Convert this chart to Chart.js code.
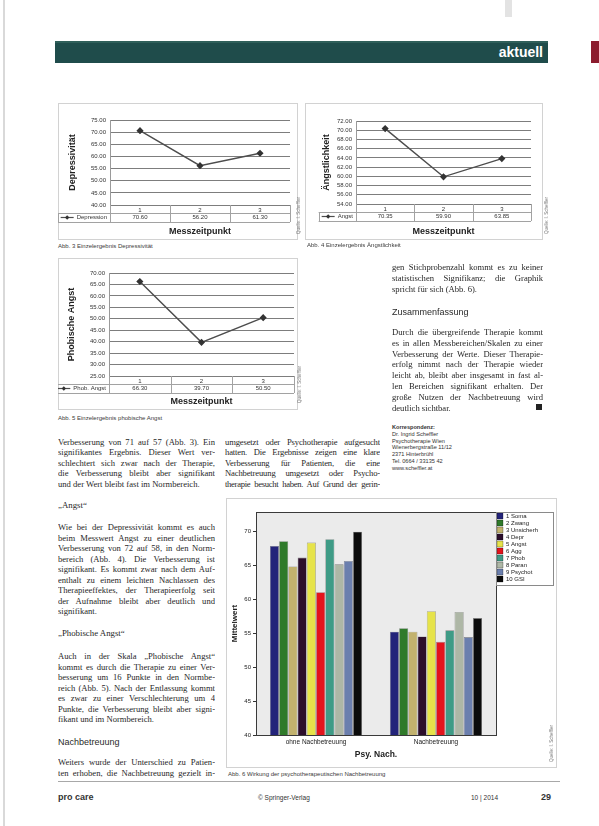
<!DOCTYPE html>
<html lang="de">
<head>
<meta charset="utf-8">
<title>aktuell – Nachbetreuung</title>
<script src="https://cdn.jsdelivr.net/npm/chart.js@4.4.1/dist/chart.umd.min.js"></script>
<style>
    html, body { margin: 0; padding: 0; background: #fff; }
    body { position: relative; width: 599px; height: 826px; overflow: hidden;
           font-family: "Liberation Serif", "DejaVu Serif", serif; color: #272727; }
    .abs { position: absolute; }
    .edge { left: 3px; top: 0; width: 2px; height: 826px; background: #d9d9d9; }
    .mark { left: 505px; top: 0; width: 7px; height: 17px; background: #e3e3e3; }
    .head { left: 55px; top: 41px; width: 493px; height: 22px; background: #1f4c4b;
            border-top: 2px solid #2f5f5a; box-sizing: border-box; }
    .head span { position: absolute; right: 5px; top: 1px; color: #fff;
                 font: bold 14px "Liberation Sans", Arial, sans-serif; }
    .tab { left: 591px; top: 41px; width: 8px; height: 22px; background: #8c1c2e; }
    .panel { border: 1px solid #d2d2d2; box-sizing: border-box; }
    canvas { position: absolute; }
    .cap { font: 6px "Liberation Sans", Arial, sans-serif; color: #3a3a3a; white-space: nowrap; }
    .credit { font: 4.5px "Liberation Sans", Arial, sans-serif; color: #7a7a7a; white-space: nowrap;
              transform: rotate(-90deg); transform-origin: left top; }
    .txt { font-size: 8.6px; }
    .txt div { height: 10.5px; line-height: 10.5px; text-align: justify; text-align-last: justify; overflow: hidden; }
    .txt div.e { text-align-last: left; }
    .sub { font-size: 8.8px; white-space: nowrap; }
    .h2 { font: 9px "Liberation Sans", Arial, sans-serif; color: #2a2a2a; white-space: nowrap; }
    .kontakt { font: 5.6px/6.8px "Liberation Sans", Arial, sans-serif; color: #333; white-space: nowrap; }
    .foot { font: 6.5px "Liberation Sans", Arial, sans-serif; color: #333; white-space: nowrap; }
    .rule { left: 58px; top: 781px; width: 502px; height: 1px; background: #a8a8a8; }
</style>
</head>
<body>

<div class="abs edge"></div>
<div class="abs mark"></div>
<div class="abs head"><span>aktuell</span></div>
<div class="abs tab"></div>

<!-- Abb. 3 -->
<div class="abs panel" style="left:58px;top:103px;width:240px;height:137px;"></div>
<canvas id="depChart" width="240" height="137" style="left:58px;top:103px;"></canvas>
<div class="abs credit" style="left:296px;top:234px;">Quelle: I. Scheffler</div>
<div class="abs cap" style="left:58px;top:243px;">Abb. 3 Einzelergebnis Depressivität</div>

<!-- Abb. 4 -->
<div class="abs panel" style="left:305px;top:103px;width:238px;height:137px;"></div>
<canvas id="angstChart" width="240" height="137" style="left:305px;top:103px;"></canvas>
<div class="abs credit" style="left:544px;top:234px;">Quelle: I. Scheffler</div>
<div class="abs cap" style="left:307px;top:242px;">Abb. 4 Einzelergebnis Ängstlichkeit</div>

<!-- Abb. 5 -->
<div class="abs panel" style="left:58px;top:258px;width:240px;height:152px;"></div>
<canvas id="phobChart" width="242" height="152" style="left:58px;top:258px;"></canvas>
<div class="abs credit" style="left:297px;top:403px;">Quelle: I. Scheffler</div>
<div class="abs cap" style="left:58px;top:415px;">Abb. 5 Einzelergebnis phobische Angst</div>

<!-- linke Spalte -->
<div class="abs txt" style="left:58px;top:437px;width:157px;">
    <div style="height:10.4px;line-height:10.4px">Verbesserung von 71 auf 57 (Abb. 3). Ein</div>
    <div style="height:10.4px;line-height:10.4px">signifikantes Ergebnis. Dieser Wert ver-</div>
    <div style="height:10.4px;line-height:10.4px">schlechtert sich zwar nach der Therapie,</div>
    <div style="height:10.4px;line-height:10.4px">die Verbesserung bleibt aber signifikant</div>
    <div class="e" style="height:10.4px;line-height:10.4px">und der Wert bleibt fast im Normbereich.</div>
</div>
<div class="abs sub" style="left:58px;top:500px;">„Angst“</div>
<div class="abs txt" style="left:58px;top:522px;width:157px;">
    <div>Wie bei der Depressivität kommt es auch</div>
    <div>beim Messwert Angst zu einer deutlichen</div>
    <div>Verbesserung von 72 auf 58, in den Norm-</div>
    <div>bereich (Abb. 4). Die Verbesserung ist</div>
    <div>signifikant. Es kommt zwar nach dem Auf-</div>
    <div>enthalt zu einem leichten Nachlassen des</div>
    <div>Therapieeffektes, der Therapieerfolg seit</div>
    <div>der Aufnahme bleibt aber deutlich und</div>
    <div class="e">signifikant.</div>
</div>
<div class="abs sub" style="left:58px;top:628px;">„Phobische Angst“</div>
<div class="abs txt" style="left:58px;top:651px;width:157px;">
    <div>Auch in der Skala „Phobische Angst“</div>
    <div>kommt es durch die Therapie zu einer Ver-</div>
    <div>besserung um 16 Punkte in den Normbe-</div>
    <div>reich (Abb. 5). Nach der Entlassung kommt</div>
    <div>es zwar zu einer Verschlechterung um 4</div>
    <div>Punkte, die Verbesserung bleibt aber signi-</div>
    <div class="e">fikant und im Normbereich.</div>
</div>
<div class="abs h2" style="left:58px;top:737px;">Nachbetreuung</div>
<div class="abs txt" style="left:58px;top:757px;width:157px;">
    <div>Weiters wurde der Unterschied zu Patien-</div>
    <div>ten erhoben, die Nachbetreuung gezielt in-</div>
</div>

<!-- mittlere Spalte -->
<div class="abs txt" style="left:225px;top:437px;width:155px;letter-spacing:-0.15px;">
    <div style="height:10.4px;line-height:10.4px">umgesetzt oder Psychotherapie aufgesucht</div>
    <div style="height:10.4px;line-height:10.4px">hatten. Die Ergebnisse zeigen eine klare</div>
    <div style="height:10.4px;line-height:10.4px">Verbesserung für Patienten, die eine</div>
    <div style="height:10.4px;line-height:10.4px">Nachbetreuung umgesetzt oder Psycho-</div>
    <div style="height:10.4px;line-height:10.4px;letter-spacing:-0.3px">therapie besucht haben. Auf Grund der gerin-</div>
</div>

<!-- rechte Spalte -->
<div class="abs txt" style="left:392px;top:262px;width:151px;">
    <div style="height:11px;line-height:11px">gen Stichprobenzahl kommt es zu keiner</div>
    <div style="height:11px;line-height:11px">statistischen Signifikanz; die Graphik</div>
    <div class="e" style="height:11px;line-height:11px">spricht für sich (Abb. 6).</div>
</div>
<div class="abs h2" style="left:392px;top:307px;">Zusammenfassung</div>
<div class="abs txt" style="left:392px;top:327px;width:151px;">
    <div style="height:10.8px;line-height:10.8px">Durch die übergreifende Therapie kommt</div>
    <div style="height:10.8px;line-height:10.8px">es in allen Messbereichen/Skalen zu einer</div>
    <div style="height:10.8px;line-height:10.8px">Verbesserung der Werte. Dieser Therapie-</div>
    <div style="height:10.8px;line-height:10.8px">erfolg nimmt nach der Therapie wieder</div>
    <div style="height:10.8px;line-height:10.8px">leicht ab, bleibt aber insgesamt in fast al-</div>
    <div style="height:10.8px;line-height:10.8px">len Bereichen signifikant erhalten. Der</div>
    <div style="height:10.8px;line-height:10.8px">große Nutzen der Nachbetreuung wird</div>
    <div class="e" style="height:10.8px;line-height:10.8px">deutlich sichtbar.</div>
</div>
<div class="abs" style="left:536px;top:404px;width:6px;height:6px;background:#222;"></div>
<div class="abs kontakt" style="left:392px;top:424px;">
    <b>Korrespondenz:</b><br>
    Dr. Ingrid Scheffler<br>
    Psychotherapie Wien<br>
    Wienerbergstraße 11/12<br>
    2371 Hinterbrühl<br>
    Tel. 0664 / 33135 42<br>
    www.scheffler.at
</div>

<!-- Abb. 6 -->
<div class="abs panel" style="left:226px;top:498px;width:331px;height:270px;"></div>
<canvas id="nachChart" width="327" height="270" style="left:228px;top:498px;"></canvas>
<div class="abs credit" style="left:549px;top:762px;">Quelle: I. Scheffler</div>
<div class="abs cap" style="left:228px;top:771px;">Abb. 6 Wirkung der psychotherapeutischen Nachbetreuung</div>

<div class="abs rule"></div>
<div class="abs foot" style="left:58px;top:792px;font-weight:bold;font-size:9px;">pro care</div>
<div class="abs foot" style="left:258px;top:794px;">© Springer-Verlag</div>
<div class="abs foot" style="left:471px;top:794px;">10 | 2014</div>
<div class="abs foot" style="left:541px;top:792px;font-weight:bold;font-size:9px;">29</div>

<script>
// Abb. 3 - 5: Einzelergebnisse je Messzeitpunkt
var messzeitpunkte = ['1', '2', '3'];

var depressivitaet = [70.60, 56.20, 61.30];
var depressivitaetTicks = [40, 45, 50, 55, 60, 65, 70, 75];

var aengstlichkeit = [70.35, 59.90, 63.85];
var aengstlichkeitTicks = [54, 56, 58, 60, 62, 64, 66, 68, 70, 72];

var phobischeAngst = [66.30, 39.70, 50.50];
var phobischeAngstTicks = [25, 30, 35, 40, 45, 50, 55, 60, 65, 70];

// Abb. 6: Mittelwerte der Skalen ohne / mit Nachbetreuung
var gruppen = ['ohne Nachbetreuung', 'Nachbetreuung'];
var skalen = ['1 Soma', '2 Zwang', '3 Unsicherh', '4 Depr', '5 Angst', '6 Agg', '7 Phob', '8 Paran', '9 Psychot', '10 GSI'];
var ohneNachbetreuung = [67.8, 68.5, 64.8, 66.1, 68.3, 61.0, 68.8, 65.1, 65.6, 69.9];
var mitNachbetreuung = [55.2, 55.7, 55.2, 54.5, 58.2, 53.7, 55.4, 58.1, 54.4, 57.2];
var mittelwertTicks = [40, 45, 50, 55, 60, 65, 70];
var mittelwertMax = 72.8;

var skalenFarben = ['#23237a', '#2f7a2a', '#c2b26e', '#2b0d2b', '#e6e34a',
    '#e3141c', '#3f9b86', '#aeb7a6', '#6b7fae', '#0b0b0b'];

Chart.defaults.font.family = '"Liberation Sans", Arial, sans-serif';
Chart.defaults.color = '#333';

// Excel-artige Datentabelle unter der x-Achse
var dataTablePlugin = {
    id: 'dataTable',
    afterDraw: function (chart) {
        var ctx = chart.ctx;
        var area = chart.chartArea;
        var xs = chart.scales.x;
        var ds = chart.data.datasets[0];
        var n = chart.data.labels.length;
        var half = (xs.getPixelForValue(1) - xs.getPixelForValue(0)) / 2;
        var mid = area.bottom + 8;
        var bot = area.bottom + 17;

        ctx.save();
        ctx.font = '6px "Liberation Sans", Arial, sans-serif';
        var textW = ctx.measureText(ds.label).width;
        var textX = area.left - 3;
        var keyL = textX - textW - 16;

        ctx.strokeStyle = '#a2a2a2';
        ctx.lineWidth = 1;
        ctx.beginPath();
        ctx.moveTo(keyL - 3, Math.round(mid) + 0.5);
        ctx.lineTo(area.right, Math.round(mid) + 0.5);
        ctx.moveTo(keyL - 3, Math.round(bot) + 0.5);
        ctx.lineTo(area.right, Math.round(bot) + 0.5);
        for (var i = 0; i <= n; i++) {
            var x = Math.round(xs.getPixelForValue(0) - half + i * half * 2) + 0.5;
            ctx.moveTo(x, area.bottom);
            ctx.lineTo(x, bot);
        }
        ctx.moveTo(Math.round(keyL - 3) + 0.5, mid);
        ctx.lineTo(Math.round(keyL - 3) + 0.5, bot);
        ctx.stroke();

        // Legendenschlüssel
        var cy = (mid + bot) / 2;
        ctx.strokeStyle = ds.borderColor;
        ctx.lineWidth = 1.2;
        ctx.beginPath();
        ctx.moveTo(keyL, cy);
        ctx.lineTo(keyL + 13, cy);
        ctx.stroke();
        ctx.fillStyle = '#333';
        ctx.beginPath();
        ctx.moveTo(keyL + 6.5, cy - 2.2);
        ctx.lineTo(keyL + 8.7, cy);
        ctx.lineTo(keyL + 6.5, cy + 2.2);
        ctx.lineTo(keyL + 4.3, cy);
        ctx.closePath();
        ctx.fill();

        ctx.textBaseline = 'middle';
        ctx.textAlign = 'right';
        ctx.fillText(ds.label, textX, cy);
        ctx.textAlign = 'center';
        ds.data.forEach(function (v, i) {
            ctx.fillText(v.toFixed(2), xs.getPixelForValue(i), cy);
        });
        ctx.restore();
    }
};

function lineChart(id, opts) {
    var el = document.getElementById(id);
    if (!el) return null;
    return new Chart(el, {
        type: 'line',
        data: {
            labels: messzeitpunkte,
            datasets: [{
                label: opts.series,
                data: opts.values,
                borderColor: '#4d4d4d',
                borderWidth: 1.4,
                pointStyle: 'rectRot',
                pointRadius: 2.6,
                pointBackgroundColor: '#333',
                pointBorderColor: '#333',
                tension: 0
            }]
        },
        options: {
            responsive: false,
            animation: false,
            events: [],
            layout: {padding: {top: opts.padTop, right: opts.padRight, left: 0, bottom: 0}},
            plugins: {legend: {display: false}, tooltip: {enabled: false}},
            scales: {
                x: {
                    offset: true,
                    grid: {display: false, drawTicks: false},
                    border: {display: false},
                    ticks: {font: {size: 6}, color: '#333', padding: 2, maxRotation: 0},
                    title: {
                        display: true, text: 'Messzeitpunkt', color: '#222',
                        font: {size: 9, weight: 'bold'}, padding: {top: 0, bottom: 2.6}
                    },
                    afterFit: function (s) {
                        s.height = opts.xHeight;
                    }
                },
                y: {
                    min: opts.ticks[0],
                    max: opts.ticks[opts.ticks.length - 1],
                    afterBuildTicks: function (s) {
                        s.ticks = opts.ticks.map(function (v) {
                            return {value: v};
                        });
                    },
                    grid: {color: '#6e6e6e', lineWidth: 0.9, drawTicks: false},
                    border: {display: true, color: '#9a9a9a'},
                    ticks: {
                        font: {size: 6}, color: '#333', padding: 4, autoSkip: false,
                        callback: function (v) {
                            return Number(v).toFixed(2);
                        }
                    },
                    title: {
                        display: true, text: opts.title, color: '#222',
                        font: {size: 9, weight: 'bold'}, padding: {top: opts.titlePad, bottom: 0}
                    },
                    afterFit: function (s) {
                        s.width = opts.yWidth;
                    }
                }
            }
        },
        plugins: [dataTablePlugin]
    });
}

lineChart('depChart', {
    series: 'Depression', values: depressivitaet, ticks: depressivitaetTicks, title: 'Depressivität',
    padTop: 17, padRight: 8, xHeight: 35, yWidth: 52, titlePad: 9
});
lineChart('angstChart', {
    series: 'Angst', values: aengstlichkeit, ticks: aengstlichkeitTicks, title: 'Ängstlichkeit',
    padTop: 18, padRight: 14, xHeight: 36, yWidth: 51, titlePad: 16.5
});
lineChart('phobChart', {
    series: 'Phob. Angst', values: phobischeAngst, ticks: phobischeAngstTicks, title: 'Phobische Angst',
    padTop: 15, padRight: 6, xHeight: 34, yWidth: 51, titlePad: 8.5
});

// Abb. 6
var legendWidthPlugin = {
    id: 'legendWidth',
    afterInit: function (chart) {
        var legend = chart.legend;
        if (!legend) return;
        var fit = legend.fit;
        legend.fit = function () {
            fit.call(this);
            this.width = 59;
        };
    }
};

var plotFramePlugin = {
    id: 'plotFrame',
    beforeDatasetsDraw: function (chart) {
        var a = chart.chartArea;
        var ctx = chart.ctx;
        ctx.save();
        ctx.fillStyle = '#ebebeb';
        ctx.fillRect(a.left, a.top, a.right - a.left, a.bottom - a.top);
        ctx.restore();
    },
    afterDatasetsDraw: function (chart) {
        var a = chart.chartArea;
        var ctx = chart.ctx;
        ctx.save();
        ctx.strokeStyle = '#3a3a3a';
        ctx.lineWidth = 1;
        ctx.strokeRect(Math.round(a.left) + 0.5, Math.round(a.top) + 0.5,
            Math.round(a.right - a.left), Math.round(a.bottom - a.top));
        var lg = chart.legend;
        if (lg && lg.columnSizes && lg.columnSizes.length) {
            ctx.strokeStyle = '#8a8a8a';
            ctx.strokeRect(Math.round(lg.left) + 0.5, Math.round(lg.top) + 0.5,
                Math.round(lg.width) - 2, Math.round(lg.columnSizes[0].height) + 3);
        }
        ctx.restore();
    }
};

new Chart(document.getElementById('nachChart'), {
    type: 'bar',
    data: {
        labels: gruppen,
        datasets: skalen.map(function (name, i) {
            return {
                label: name,
                data: [ohneNachbetreuung[i], mitNachbetreuung[i]],
                backgroundColor: skalenFarben[i],
                borderColor: 'rgba(0,0,0,0.45)',
                borderWidth: 0.6,
                categoryPercentage: 0.77,
                barPercentage: 0.98
            };
        })
    },
    options: {
        responsive: false,
        animation: false,
        events: [],
        layout: {padding: {top: 14, right: 0, left: 0, bottom: 0}},
        plugins: {
            tooltip: {enabled: false},
            legend: {
                position: 'right',
                align: 'start',
                labels: {font: {size: 6}, color: '#222', boxWidth: 6, boxHeight: 6, padding: 1}
            }
        },
        scales: {
            x: {
                grid: {display: false, drawTicks: false},
                border: {color: '#333'},
                ticks: {font: {size: 6.5}, color: '#222', padding: 3, maxRotation: 0},
                title: {
                    display: true, text: 'Psy. Nach.', color: '#222',
                    font: {size: 8.5, weight: 'bold'}, padding: {top: 0, bottom: 7.9}
                },
                afterFit: function (s) {
                    s.height = 33;
                }
            },
            y: {
                min: mittelwertTicks[0],
                max: mittelwertMax,
                afterBuildTicks: function (s) {
                    s.ticks = mittelwertTicks.map(function (v) {
                        return {value: v};
                    });
                },
                grid: {drawOnChartArea: false, drawTicks: true, tickLength: 3, color: '#333'},
                border: {color: '#333'},
                ticks: {font: {size: 6}, color: '#222', padding: 2, autoSkip: false},
                title: {
                    display: true, text: 'Mittelwert', color: '#222',
                    font: {size: 8, weight: 'bold'}, padding: {top: 2.2, bottom: 0}
                },
                afterFit: function (s) {
                    s.width = 28;
                }
            }
        }
    },
    plugins: [legendWidthPlugin, plotFramePlugin]
});
</script>
</body>
</html>
